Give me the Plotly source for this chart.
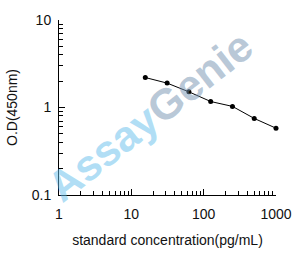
import plotly.graph_objects as go

conc = [15.6, 31.25, 62.5, 125, 250, 500, 1000]
od = [2.20, 1.90, 1.51, 1.17, 1.03, 0.75, 0.58]
x_ticks = [1, 10, 100, 1000]
y_ticks = [0.1, 1, 10]

fig = go.Figure()
fig.add_trace(go.Scatter(x=conc, y=od, mode="lines+markers", cliponaxis=False,
                         line=dict(color="black", width=1),
                         marker=dict(color="black", size=5)))

font = dict(family="Liberation Sans, Arial", size=14, color="#111")
fig.update_layout(
    width=304, height=258,
    margin=dict(l=58, r=24, t=16, b=63),
    paper_bgcolor="white", plot_bgcolor="white",
    showlegend=False, font=font,
    xaxis=dict(type="log", range=[0, 3], tickvals=x_ticks,
               ticktext=[str(v) for v in x_ticks],
               ticks="inside", ticklen=6, tickcolor="black",
               ticklabelstandoff=6,
               minor=dict(ticks="inside", ticklen=4, dtick="D1", tickcolor="black", showgrid=False),
               showline=True, linecolor="black", linewidth=1, mirror=False,
               showgrid=False, zeroline=False,
               title=dict(text="standard concentration(pg/mL)", font=font, standoff=14)),
    yaxis=dict(type="log", range=[-1, 1], tickvals=y_ticks,
               ticktext=["0.1", "1", "10"],
               ticks="inside", ticklen=6, tickcolor="black",
               ticklabelstandoff=4,
               minor=dict(ticks="inside", ticklen=4, dtick="D1", tickcolor="black", showgrid=False),
               showline=True, linecolor="black", linewidth=1,
               showgrid=False, zeroline=False,
               title=dict(text="O.D(450nm)", font=font, standoff=10)),
)

fig.add_annotation(
    xref="x", yref="y", x=1.26, y=-0.10,
    text="<b><span style='color:rgba(100,190,235,0.5)'>Assay</span>"
         "<span style='color:rgba(115,145,175,0.5)'>Genie</span></b>",
    showarrow=False, textangle=-38,
    font=dict(family="Liberation Sans, Arial", size=43),
)

fig.write_html("out.html")
